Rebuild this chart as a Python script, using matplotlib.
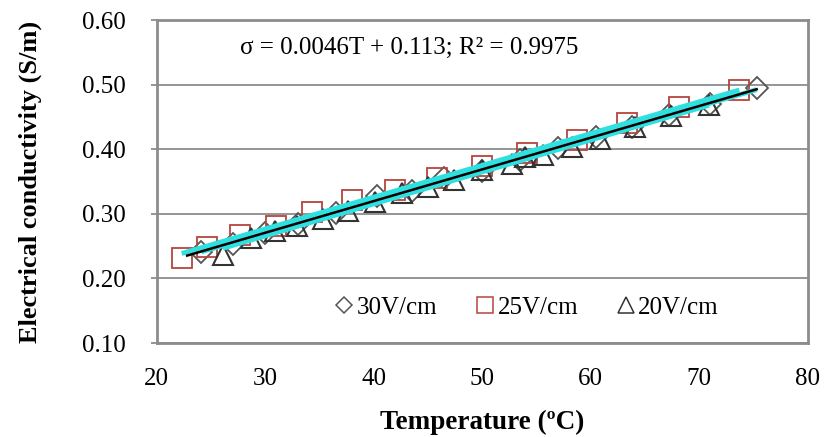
import numpy as np
import matplotlib
matplotlib.use("Agg")
import matplotlib.pyplot as plt
from matplotlib.lines import Line2D

plt.rcParams['font.family'] = ['Liberation Serif', 'DejaVu Serif']

# 30 V/cm (diamonds)
t30 = [24.1, 27.0, 30.0, 33.0, 36.5, 40.3, 43.5, 46.5, 50.0, 53.5, 57.0, 60.5, 63.8, 67.2, 71.0, 75.3]
s30 = [0.241, 0.254, 0.270, 0.284, 0.301, 0.327, 0.336, 0.355, 0.366, 0.383, 0.402, 0.419, 0.434, 0.453, 0.470, 0.495]

# 25 V/cm (squares)
t25 = [22.3, 24.6, 27.7, 31.0, 34.3, 38.0, 42.0, 45.8, 50.0, 54.1, 58.7, 63.3, 68.1, 73.7]
s25 = [0.232, 0.249, 0.267, 0.281, 0.303, 0.321, 0.337, 0.355, 0.374, 0.394, 0.414, 0.440, 0.465, 0.492]

# 20 V/cm (triangles)
t20 = [26.1, 28.7, 30.9, 32.9, 35.3, 37.6, 40.1, 42.6, 45.0, 47.4, 50.0, 52.7, 53.9,
       55.6, 58.3, 60.9, 64.1, 67.4, 70.9]
s20 = [0.236, 0.263, 0.273, 0.281, 0.292, 0.304, 0.318, 0.332, 0.341, 0.352, 0.368, 0.377, 0.388,
       0.391, 0.403, 0.416, 0.434, 0.451, 0.468]

labels = ['30V/cm', '25V/cm', '20V/cm']
equation = 'σ = 0.0046T + 0.113; R² = 0.9975'
xticks = [20, 30, 40, 50, 60, 70, 80]
yticks = [0.10, 0.20, 0.30, 0.40, 0.50, 0.60]

fig = plt.figure(figsize=(8.25, 4.37), dpi=100)
ax = fig.add_axes([0.190, 0.215, 0.789, 0.739])

gray = '#8c8c8c'
ax.set_xlim(20, 80)
ax.set_ylim(0.10, 0.60)
ax.set_xticks(xticks)
ax.set_yticks(yticks)
ax.set_yticklabels([f'{v:.2f}' for v in yticks])
ax.grid(axis='y', color=gray, linewidth=1.3)
ax.set_axisbelow(True)
for sp in ax.spines.values():
    sp.set_color(gray)
    sp.set_linewidth(2)
ax.tick_params(axis='both', labelsize=18, color=gray, length=4, width=1.3)
ax.tick_params(axis='y', pad=18)
ax.tick_params(axis='x', length=0, pad=18)

ms_face = 'none'
ax.plot(t30, s30, linestyle='none', marker='D', ms=11, mfc=ms_face, mec='#555555', mew=1.3, zorder=3)
ax.plot(t25, s25, linestyle='none', marker='s', ms=14, mfc=ms_face, mec='#b5443f', mew=1.3, zorder=3)
ax.plot(t20, s20, linestyle='none', marker='^', ms=15, mfc=ms_face, mec='#333333', mew=1.5, zorder=3)

# trend lines (per series in cyan, combined in black)
for tx, sy in [(t30, s30), (t25, s25), (t20, s20)]:
    p = np.polyfit(tx, sy, 1)
    xx = np.array([min(tx), max(tx)])
    ax.plot(xx, np.polyval(p, xx), color='#2fe0e0', linewidth=3.5, zorder=4, solid_capstyle='butt')
ta = np.array(t30 + t25 + t20)
sa = np.array(s30 + s25 + s20)
p = np.polyfit(ta, sa, 1)
xx = np.array([ta.min() + 0.5, ta.max()])
ax.plot(xx, np.polyval(p, xx), color='black', linewidth=1.8, zorder=5)

ax.text(0.128, 0.915, equation, transform=ax.transAxes, fontsize=18, va='center', ha='left')

handles = [
    Line2D([], [], linestyle='none', marker='D', ms=8, mfc='none', mec='#555555', mew=1.1),
    Line2D([], [], linestyle='none', marker='s', ms=11, mfc='none', mec='#b5443f', mew=1.1),
    Line2D([], [], linestyle='none', marker='^', ms=11, mfc='none', mec='#333333', mew=1.1),
]
ax.legend(handles, labels, loc='center', bbox_to_anchor=(0.568, 0.11), ncol=3, frameon=False,
          fontsize=18, handlelength=0.8, handletextpad=0.1, columnspacing=1.5)

ax.set_xlabel('Temperature (ºC)', fontsize=19.5, fontweight='bold', labelpad=14)
ax.set_ylabel('Electrical conductivity (S/m)', fontsize=19, fontweight='bold', labelpad=29)

fig.savefig('out.png', dpi=100)
